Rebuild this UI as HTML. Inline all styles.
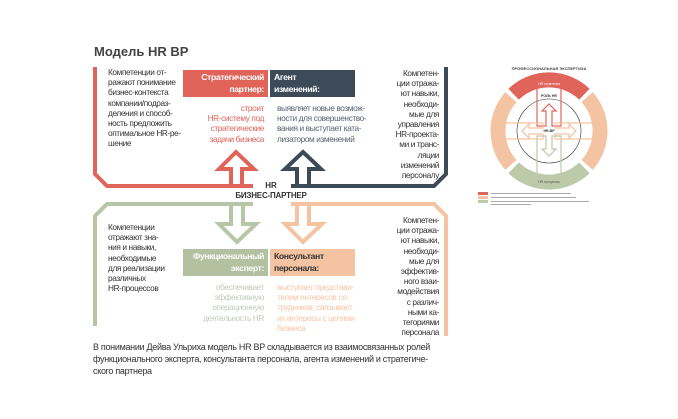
<!DOCTYPE html>
<html><head><meta charset="utf-8">
<style>
body{margin:0;width:678px;height:419px;background:#fff;position:relative;overflow:hidden;font-family:"Liberation Sans","Noto Sans CJK SC",sans-serif;}
.t{position:absolute;font-size:8.3px;line-height:10.2px;color:#333;letter-spacing:-0.4px;white-space:nowrap;}
.box{position:absolute;width:85px;height:27px;font-size:8.7px;line-height:11.5px;font-weight:bold;box-sizing:border-box;padding:2px 4px;letter-spacing:-0.4px;white-space:nowrap;}
</style></head><body>
<div style="position:absolute;left:94px;top:44px;font-size:13px;font-weight:bold;color:#444;">Модель HR BP</div>

<svg width="678" height="419" style="position:absolute;left:0;top:0">
 <g fill="none" stroke-width="4" stroke-linejoin="miter">
  <polyline points="95,67 95,174 107,186 253,186" stroke="#e0645a"/>
  <polyline points="291,186 434,186 446,174 446,67" stroke="#3d4a58"/>
  <polyline points="253,204 107,204 95,216 95,326" stroke="#b8c6a8"/>
  <polyline points="291,204 434,204 446,216 446,336" stroke="#f3c3a2"/>
  <polyline points="231,186 231,169 219,169 236,152 254,169 242,169 242,186" stroke="#e0645a"/>
  <polyline points="297,186 297,169 285,169 303,152 321,169 309,169 309,186" stroke="#3d4a58"/>
  <polyline points="231,206 231,224 219,224 237,242 256,224 243,224 243,206" stroke="#b8c6a8"/>
  <polyline points="297,206 297,224 285,224 303,242 322,224 309,224 309,206" stroke="#f3c3a2"/>
 </g>
 <g transform="translate(549,131)">
  <g fill="none" stroke-width="15">
   <path d="M-35.4,-36.8 A51,51 0 0 1 35.4,-36.8" stroke="#e0645a"/>
   <path d="M38.1,-33.9 A51,51 0 0 1 38.1,33.9" stroke="#f3c3a2"/>
   <path d="M35.4,36.8 A51,51 0 0 1 -35.4,36.8" stroke="#bccaaa"/>
   <path d="M-38.1,33.9 A51,51 0 0 1 -38.1,-33.9" stroke="#f3c3a2"/>
  </g>
  <circle r="32" fill="none" stroke="#333" stroke-width="0.6"/>
  <g fill="none" stroke-width="1.2">
   <polyline points="-12,-44 -12,-5 -3,-5 -3,-20 -7,-20 0,-27 7,-20 3,-20 3,-5 12,-5 12,-44" stroke="#e0645a"/>
   <polyline points="-12,44 -12,5 -3,5 -3,18 -7,18 0,25 7,18 3,18 3,5 12,5 12,44" stroke="#bccaaa"/>
   <polyline points="-44,-8 -6,-8 -6,-3 -20,-3 -20,-7 -27,0 -20,7 -20,3 -6,3 -6,8 -44,8" stroke="#f3c3a2"/>
   <polyline points="44,-8 6,-8 6,-3 20,-3 20,-7 27,0 20,7 20,3 6,3 6,8 44,8" stroke="#f3c3a2"/>
  </g>
  <text x="0" y="-46" font-size="3.5" fill="#fff" text-anchor="middle" font-family="Liberation Sans">HR стратегия</text>
  <text x="0" y="52" font-size="3.5" fill="#555" text-anchor="middle" font-family="Liberation Sans">HR процессы</text>
  <text x="0" y="-34" font-size="3.5" fill="#333" text-anchor="middle" font-weight="bold" font-family="Liberation Sans">РОЛЬ HR</text>
  <text x="0" y="1" font-size="3.5" fill="#333" text-anchor="middle" font-weight="bold" font-family="Liberation Sans">HR-BP</text>
  <text x="0" y="-61" font-size="4" fill="#444" text-anchor="middle" font-weight="bold" font-family="Liberation Sans">ПРОФЕССИОНАЛЬНАЯ ЭКСПЕРТИЗА</text>
 </g>
 <rect x="478" y="192" width="10" height="3" fill="#e0645a"/>
 <rect x="478" y="196" width="10" height="3" fill="#f3c3a2"/>
 <rect x="478" y="200" width="10" height="3" fill="#bccaaa"/>
 <g fill="#aaa"><rect x="491" y="193" width="80" height="1"/><rect x="491" y="197" width="85" height="1"/><rect x="491" y="201" width="98" height="1"/><rect x="491" y="204" width="40" height="1"/></g>
</svg>

<div class="t" style="left:108px;top:67px;">Компетенции от-<br>ражают понимание<br>бизнес-контекста<br>компании/подраз-<br>деления и способ-<br>ность предложить<br>оптимальное HR-ре-<br>шение</div>

<div class="box" style="left:183px;top:70px;background:#e0645a;color:#fff;text-align:right;">Стратегический<br>партнер:</div>
<div class="box" style="left:270px;top:70px;background:#3d4a58;color:#fff;">Агент<br>изменений:</div>
<div class="t" style="left:183px;top:103px;width:81px;text-align:right;color:#e0645a;">строит<br>HR-систему под<br>стратегические<br>задачи бизнеса</div>
<div class="t" style="left:277px;top:103px;color:#55636f;">выявляет новые возмож-<br>ности для совершенство-<br>вания и выступает ката-<br>лизатором изменений</div>

<div class="t" style="left:379px;top:68px;width:60px;text-align:right;">Компетен-<br>ции отража-<br>ют навыки,<br>необходи-<br>мые для<br>управления<br>HR-проекта-<br>ми и транс-<br>ляции<br>изменений<br>персоналу</div>

<div style="position:absolute;left:250px;top:181px;width:42px;text-align:center;font-size:8px;font-weight:bold;color:#333;">HR</div>
<div style="position:absolute;left:210px;top:191px;width:122px;text-align:center;font-size:8px;font-weight:bold;color:#333;letter-spacing:-0.2px;">БИЗНЕС-ПАРТНЕР</div>

<div class="t" style="left:108px;top:222px;">Компетенции<br>отражают зна-<br>ния и навыки,<br>необходимые<br>для реализации<br>различных<br>HR-процессов</div>

<div class="box" style="left:183px;top:249px;background:#b3c1a1;color:#fff;text-align:right;">Функциональный<br>эксперт:</div>
<div class="box" style="left:270px;top:249px;background:#f3c3a2;color:#333;">Консультант<br>персонала:</div>
<div class="t" style="left:183px;top:282px;width:81px;text-align:right;color:#c3cbbb;">обеспечивает<br>эффективную<br>операционную<br>деятельность HR</div>
<div class="t" style="left:277px;top:282px;color:#f5c6a8;">выступает представи-<br>телем интересов со-<br>трудников, связывает<br>их интересы с целями<br>бизнеса</div>

<div class="t" style="left:379px;top:215px;width:60px;text-align:right;">Компетен-<br>ции отража-<br>ют навыки,<br>необходи-<br>мые для<br>эффектив-<br>ного взаи-<br>модействия<br>с различ-<br>ными ка-<br>тегориями<br>персонала</div>

<div class="t" style="left:93px;top:342px;font-size:9px;line-height:11.8px;letter-spacing:-0.3px;">В понимании Дейва Ульриха модель HR BP складывается из взаимосвязанных ролей<br>функционального эксперта, консультанта персонала, агента изменений и стратегиче-<br>ского партнера</div>
</body></html>
